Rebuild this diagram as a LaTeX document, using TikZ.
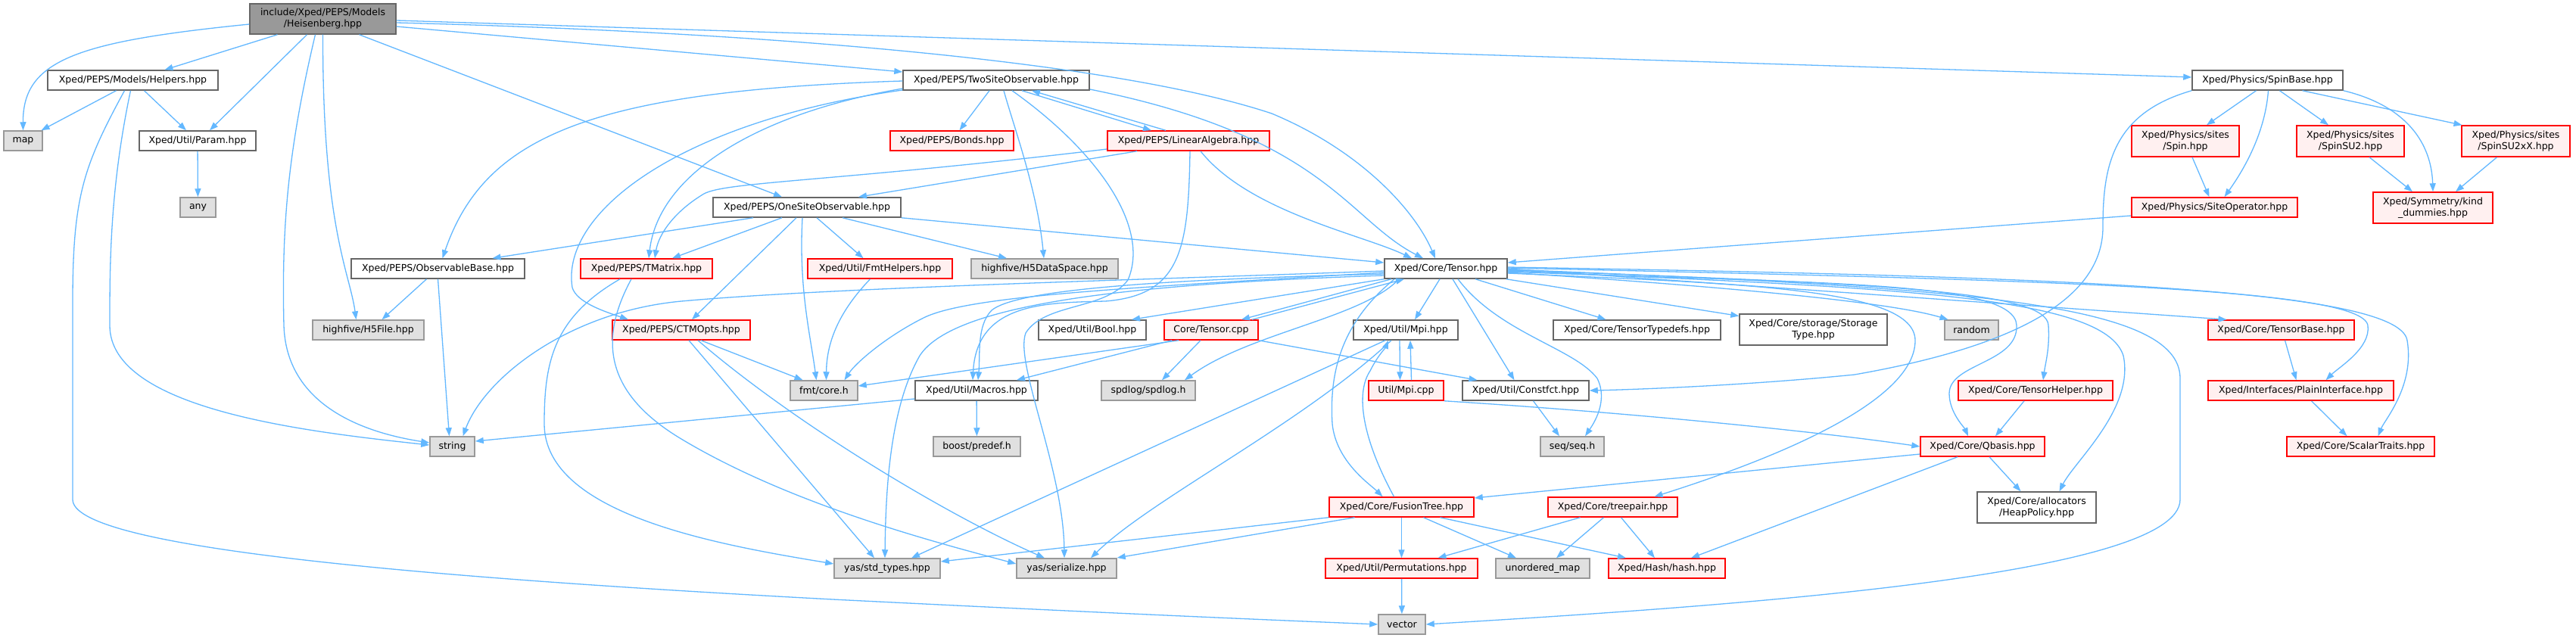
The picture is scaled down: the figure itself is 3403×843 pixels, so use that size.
\documentclass[tikz,border=0pt]{standalone}
\usepackage{fontspec}
\setmainfont{DejaVu Sans}
\usetikzlibrary{arrows.meta,calc}
\definecolor{edgeblue}{HTML}{63B8FF}
\definecolor{rootfill}{HTML}{999999}
\definecolor{docborder}{HTML}{666666}
\definecolor{extfill}{HTML}{E0E0E0}
\definecolor{extborder}{HTML}{999999}
\definecolor{truncfill}{HTML}{FFF0F0}
\definecolor{truncborder}{HTML}{FF0000}
\tikzset{
  box/.style={line width=1.5pt, inner sep=0pt, minimum height=26pt, align=center,
    font=\fontsize{12.5}{15}\selectfont},
  hbox/.style={box, fill=rootfill, draw=docborder},
  wbox/.style={box, fill=white, draw=docborder},
  rbox/.style={box, fill=truncfill, draw=truncborder},
  gbox/.style={box, fill=extfill, draw=extborder},
  e/.style={draw=edgeblue, line width=1.3pt, -{Triangle[length=11pt,width=8pt]}}
}
\begin{document}
\begin{tikzpicture}[x=1pt,y=-1pt]
\fill[white] (0,0) rectangle (3403,843);
\useasboundingbox (0,0) rectangle (3403,843);

% ---------- nodes ----------
\node[hbox,minimum width=193pt,minimum height=40pt] (heis) at (426.5,25) {include/Xped/PEPS/Models\\/Heisenberg.hpp};
\node[wbox,minimum width=225pt] (helpers) at (175.5,106) {Xped/PEPS/Models/Helpers.hpp};
\node[gbox,minimum width=51pt] (map) at (30.5,186) {map};
\node[wbox,minimum width=154pt] (param) at (261,186) {Xped/Util/Param.hpp};
\node[gbox,minimum width=47pt] (any) at (261.5,274) {any};
\node[wbox,minimum width=248pt] (onesite) at (1066,274) {Xped/PEPS/OneSiteObservable.hpp};
\node[wbox,minimum width=229pt] (obsbase) at (578.5,355) {Xped/PEPS/ObservableBase.hpp};
\node[rbox,minimum width=174pt] (tmatrix) at (854,355) {Xped/PEPS/TMatrix.hpp};
\node[rbox,minimum width=191pt] (fmthelp) at (1162.5,355) {Xped/Util/FmtHelpers.hpp};
\node[gbox,minimum width=194pt] (h5ds) at (1380,355) {highfive/H5DataSpace.hpp};
\node[wbox,minimum width=162pt] (tensor) at (1910,355) {Xped/Core/Tensor.hpp};
\node[wbox,minimum width=246pt] (twosite) at (1316,106) {Xped/PEPS/TwoSiteObservable.hpp};
\node[rbox,minimum width=163pt] (bonds) at (1257.5,186) {Xped/PEPS/Bonds.hpp};
\node[rbox,minimum width=214pt] (linalg) at (1570,186) {Xped/PEPS/LinearAlgebra.hpp};
\node[wbox,minimum width=199pt] (spinbase) at (2995.5,106) {Xped/Physics/SpinBase.hpp};
\node[rbox,minimum width=142pt,minimum height=41pt] (spin) at (2887,186.5) {Xped/Physics/sites\\/Spin.hpp};
\node[rbox,minimum width=142pt,minimum height=41pt] (spinsu2) at (3105,186.5) {Xped/Physics/sites\\/SpinSU2.hpp};
\node[rbox,minimum width=143pt,minimum height=41pt] (spinsu2xx) at (3323.5,186.5) {Xped/Physics/sites\\/SpinSU2xX.hpp};
\node[rbox,minimum width=219pt] (siteop) at (2925.5,274) {Xped/Physics/SiteOperator.hpp};
\node[rbox,minimum width=158pt,minimum height=41pt] (kind) at (3214,274.5) {Xped/Symmetry/kind\\\_dummies.hpp};
\node[gbox,minimum width=147pt] (h5file) at (486.5,436) {highfive/H5File.hpp};
\node[rbox,minimum width=182pt] (ctmopts) at (900,436) {Xped/PEPS/CTMOpts.hpp};
\node[gbox,minimum width=89pt] (fmtcore) at (1088.5,516) {fmt/core.h};
\node[gbox,minimum width=59pt] (string) at (597.5,590) {string};
\node[gbox,minimum width=140pt] (stdtypes) at (1172,751) {yas/std\_types.hpp};
\node[wbox,minimum width=142pt] (bool) at (1443,436) {Xped/Util/Bool.hpp};
\node[rbox,minimum width=124pt] (tensorcpp) at (1600,436) {Core/Tensor.cpp};
\node[wbox,minimum width=138pt] (mpi) at (1857,436) {Xped/Util/Mpi.hpp};
\node[wbox,minimum width=221pt] (typedefs) at (2162.5,436) {Xped/Core/TensorTypedefs.hpp};
\node[wbox,minimum width=162pt] (macros) at (1290,516) {Xped/Util/Macros.hpp};
\node[gbox,minimum width=124pt] (spdlog) at (1517,516) {spdlog/spdlog.h};
\node[rbox,minimum width=99pt] (mpicpp) at (1857.5,516) {Util/Mpi.cpp};
\node[wbox,minimum width=167pt] (constfct) at (2015.5,516) {Xped/Util/Constfct.hpp};
\node[gbox,minimum width=115pt] (predef) at (1290.5,590) {boost/predef.h};
\node[gbox,minimum width=84pt] (seq) at (2077,590) {seq/seq.h};
\node[rbox,minimum width=191pt] (fusion) at (1851.5,670) {Xped/Core/FusionTree.hpp};
\node[rbox,minimum width=171pt] (treepair) at (2130.5,670) {Xped/Core/treepair.hpp};
\node[gbox,minimum width=132pt] (serialize) at (1409,751) {yas/serialize.hpp};
\node[rbox,minimum width=201pt] (perm) at (1851.5,751) {Xped/Util/Permutations.hpp};
\node[gbox,minimum width=124pt] (umap) at (2038,751) {unordered\_map};
\node[rbox,minimum width=154pt] (hash) at (2202,751) {Xped/Hash/hash.hpp};
\node[gbox,minimum width=62pt] (vector) at (1852,825) {vector};
\node[wbox,minimum width=195pt,minimum height=41pt] (storage) at (2395.5,435.5) {Xped/Core/storage/Storage\\Type.hpp};
\node[gbox,minimum width=71pt] (random) at (2604.5,436) {random};
\node[rbox,minimum width=193pt] (tensorbase) at (3013.5,436) {Xped/Core/TensorBase.hpp};
\node[rbox,minimum width=204pt] (thelper) at (2689,516) {Xped/Core/TensorHelper.hpp};
\node[rbox,minimum width=245pt] (plain) at (3039.5,516) {Xped/Interfaces/PlainInterface.hpp};
\node[rbox,minimum width=164pt] (qbasis) at (2619,590) {Xped/Core/Qbasis.hpp};
\node[rbox,minimum width=195pt] (scalar) at (3118.5,590) {Xped/Core/ScalarTraits.hpp};
\node[wbox,minimum width=157pt,minimum height=41pt] (heap) at (2690.5,670.5) {Xped/Core/allocators\\/HeapPolicy.hpp};

% ---------- edges ----------
% Heisenberg
\draw[e] ($(heis.west)+(0,7)$) .. controls (100,55) and (30,80) .. (map.north);
\draw[e] ($(heis.south)+(-60,0)$) -- ($(helpers.north)+(42,0)$);
\draw[e] ($(heis.south)+(-21,0)$) -- ($(param.north)+(16,0)$);
\draw[e] ($(heis.south)+(-10,0)$) .. controls (380,200) and (372,300) .. (375,430) .. controls (378,530) and (470,570) .. ($(string.west)+(0,-5)$);
\draw[e] (heis.south) .. controls (426,300) and (462,360) .. ($(h5file.north)+(-16,0)$);
\draw[e] ($(heis.south)+(48,0)$) -- ($(onesite.north)+(-33,0)$);
\draw[e] ($(heis.east)+(0,10)$) -- ($(twosite.west)+(0,-11)$);
\draw[e] ($(heis.east)+(0,5)$) .. controls (1100,45) and (1500,90) .. (1680,150) .. controls (1800,200) and (1870,280) .. ($(tensor.north)+(-14,0)$);
\draw[e] ($(heis.east)+(0,2)$) -- ($(spinbase.west)+(0,-4)$);
% Helpers
\draw[e] ($(helpers.south)+(-22,0)$) -- ($(map.north)+(24,0)$);
\draw[e] ($(helpers.south)+(15,0)$) -- ($(param.north)+(-15,0)$);
\draw[e] ($(helpers.south)+(-3,0)$) .. controls (145,250) and (145,350) .. (145,430) .. controls (145,540) and (400,570) .. ($(string.west)+(0,-2)$);
\draw[e] ($(helpers.south)+(-11,0)$) .. controls (110,220) and (96,260) .. (96,400) -- (96,660) .. controls (96,720) and (500,760) .. (1100,792) .. controls (1500,812) and (1700,820) .. (vector.west);
\draw[e] (param) -- (any);
% TwoSiteObservable
\draw[e] ($(twosite.south)+(-9,0)$) -- ($(bonds.north)+(10,0)$);
\draw[e] ($(twosite.south)+(34,0)$) -- ($(linalg.north)+(-49,0)$);
\draw[e] ($(linalg.north)+(-30,0)$) -- ($(twosite.south)+(47,0)$);
\draw[e] ($(twosite.south)+(10,0)$) .. controls (1340,170) and (1370,250) .. ($(h5ds.north)+(-1,0)$);
\draw[e] ($(twosite.east)+(0,12)$) .. controls (1750,180) and (1780,290) .. ($(tensor.north)+(-30,0)$);
\draw[e] ($(twosite.west)+(0,1)$) .. controls (780,120) and (640,180) .. ($(obsbase.north)+(6,0)$);
\draw[e] ($(twosite.west)+(0,11)$) .. controls (1000,150) and (870,230) .. ($(tmatrix.north)+(3,0)$);
\draw[e] ($(twosite.west)+(0,13)$) .. controls (900,160) and (740,280) .. (756,380) .. controls (762,400) and (800,412) .. ($(ctmopts.north)+(-70,0)$);
\draw[e] ($(twosite.south)+(21,0)$) .. controls (1450,200) and (1520,300) .. (1490,370) .. controls (1460,410) and (1380,400) .. (1355,440) .. controls (1340,480) and (1405,620) .. ($(serialize.north)+(-3,0)$);
% LinearAlgebra
\draw[e] ($(linalg.south)+(-68,0)$) -- ($(onesite.north)+(68,0)$);
\draw[e] ($(linalg.west)+(0,11)$) .. controls (1100,240) and (960,240) .. (930,256) .. controls (890,280) and (870,310) .. ($(tmatrix.north)+(11,0)$);
\draw[e] ($(linalg.south)+(16,0)$) .. controls (1650,280) and (1800,310) .. ($(tensor.north)+(-45,0)$);
\draw[e] ($(linalg.south)+(2,0)$) .. controls (1570,330) and (1560,390) .. (1460,398) .. controls (1380,400) and (1290,400) .. ($(macros.north)+(-5,0)$);
% OneSiteObservable
\draw[e] ($(onesite.south)+(-71,0)$) -- ($(obsbase.north)+(72,0)$);
\draw[e] ($(onesite.south)+(-33,0)$) -- ($(tmatrix.north)+(34,0)$);
\draw[e] ($(onesite.south)+(-14,0)$) -- ($(ctmopts.north)+(14,0)$);
\draw[e] ($(onesite.south)+(-6,0)$) .. controls (1055,380) and (1070,440) .. ($(fmtcore.north)+(-10,0)$);
\draw[e] ($(onesite.south)+(13,0)$) -- ($(fmthelp.north)+(-22,0)$);
\draw[e] ($(onesite.south)+(47,0)$) -- ($(h5ds.north)+(-50,0)$);
\draw[e] (onesite.south east) -- ($(tensor.west)+(0,-8)$);
% ObservableBase, TMatrix, FmtHelpers, CTMOpts
\draw[e] ($(obsbase.south)+(-15,0)$) -- ($(h5file.north)+(18,0)$);
\draw[e] (obsbase.south) -- ($(string.north)+(-4,0)$);
\draw[e] ($(tmatrix.south)+(-35,0)$) .. controls (730,420) and (719,480) .. (719,560) .. controls (719,680) and (950,720) .. ($(stdtypes.west)+(0,-6)$);
\draw[e] ($(tmatrix.south)+(-20,0)$) .. controls (790,450) and (800,520) .. (900,580) .. controls (1050,670) and (1250,720) .. ($(serialize.west)+(0,-6)$);
\draw[e] ($(fmthelp.south)+(-13,0)$) .. controls (1110,410) and (1092,450) .. ($(fmtcore.north)+(3,0)$);
\draw[e] ($(ctmopts.south)+(26,0)$) -- ($(fmtcore.north)+(-28,0)$);
\draw[e] ($(ctmopts.south)+(10,0)$) -- ($(stdtypes.north)+(-17,0)$);
\draw[e] ($(ctmopts.south)+(22,0)$) .. controls (1050,560) and (1250,680) .. ($(serialize.north)+(-29,0)$);
% Tensor.hpp -> left side
\draw[e] ($(tensor.west)+(0,3)$) .. controls (1500,370) and (1100,380) .. (900,398) .. controls (750,412) and (640,500) .. ($(string.north)+(14,0)$);
\draw[e] ($(tensor.west)+(0,5)$) .. controls (1500,380) and (1280,390) .. (1220,420) .. controls (1170,445) and (1130,480) .. ($(fmtcore.north)+(27,0)$);
\draw[e] ($(tensor.west)+(0,7)$) .. controls (1500,370) and (1340,385) .. (1310,410) .. controls (1290,430) and (1295,470) .. ($(macros.north)+(2,0)$);
\draw[e] ($(tensor.west)+(0,9)$) .. controls (1500,375) and (1260,400) .. (1215,470) .. controls (1175,540) and (1170,650) .. ($(stdtypes.north)+(-3,0)$);
\draw[e] (tensor.south west) -- ($(bool.north)+(52,0)$);
\draw[e] ($(tensor.south)+(-72,0)$) -- ($(tensorcpp.north)+(40,0)$);
\draw[e] ($(tensorcpp.north)+(54,0)$) -- ($(tensor.south)+(-55,0)$);
\draw[e] ($(tensor.south)+(-62,0)$) .. controls (1800,420) and (1650,440) .. ($(spdlog.north)+(48,0)$);
\draw[e] ($(tensor.south)+(-8,0)$) -- ($(mpi.north)+(12,0)$);
\draw[e] ($(tensor.south)+(-68,0)$) .. controls (1780,420) and (1755,480) .. (1760,560) .. controls (1765,610) and (1810,640) .. ($(fusion.north)+(-25,0)$);
\draw[e] ($(fusion.north)+(-10,0)$) .. controls (1800,580) and (1790,520) .. (1810,490) .. controls (1820,470) and (1830,460) .. ($(mpi.south)+(-23,0)$);
\draw[e] ($(tensor.south)+(9,0)$) -- ($(constfct.north)+(-15,0)$);
\draw[e] ($(tensor.south)+(16,0)$) .. controls (1980,440) and (2080,460) .. (2110,500) .. controls (2125,530) and (2105,560) .. ($(seq.north)+(17,0)$);
\draw[e] ($(tensor.south)+(39,0)$) -- ($(typedefs.north)+(-41,0)$);
\draw[e] ($(tensor.south east)+(-2,0)$) -- ($(storage.west)+(0,-18)$);
% Tensor.hpp -> right side
\draw[e] ($(tensor.east)+(0,5)$) .. controls (2300,380) and (2500,400) .. ($(random.north)+(-31,0)$);
\draw[e] (tensor.east) -- ($(tensorbase.north)+(-72,0)$);
\draw[e] ($(tensor.east)+(0,2)$) .. controls (2500,375) and (2704,385) .. (2706,430) .. controls (2708,460) and (2702,480) .. ($(thelper.north)+(10,0)$);
\draw[e] ($(tensor.east)+(0,4)$) .. controls (2400,375) and (2662,370) .. (2664,430) .. controls (2666,480) and (2575,480) .. (2575,520) .. controls (2575,545) and (2595,565) .. ($(qbasis.north)+(-19,0)$);
\draw[e] ($(tensor.east)+(0,3)$) .. controls (2500,380) and (2780,390) .. (2805,470) .. controls (2820,540) and (2740,610) .. ($(heap.north)+(30,0)$);
\draw[e] ($(tensor.east)+(0,1)$) .. controls (2600,380) and (2880,400) .. (2880,500) -- (2880,660) .. controls (2880,760) and (2300,800) .. (vector.east);
\draw[e] ($(tensor.east)+(0,-1)$) .. controls (2700,370) and (3120,380) .. (3128,430) .. controls (3132,460) and (3090,485) .. ($(plain.north)+(33,0)$);
\draw[e] ($(tensor.east)+(0,-2)$) .. controls (2700,365) and (3170,380) .. (3180,450) .. controls (3190,510) and (3150,555) .. ($(scalar.north)+(23,0)$);
\draw[e] ($(tensor.east)+(0,6)$) .. controls (2300,375) and (2530,380) .. (2530,450) .. controls (2530,540) and (2300,620) .. ($(treepair.north)+(55,0)$);
% Core/Tensor.cpp
\draw[e] ($(tensorcpp.south)+(-43,0)$) -- ($(fmtcore.east)+(0,-6)$);
\draw[e] ($(tensorcpp.south)+(-52,0)$) -- ($(macros.north)+(53,0)$);
\draw[e] ($(tensorcpp.south)+(-14,0)$) -- ($(spdlog.north)+(18,0)$);
\draw[e] (tensorcpp.south east) -- ($(constfct.north)+(-64,0)$);
% Mpi
\draw[e] ($(mpi.south)+(-8,0)$) -- ($(mpicpp.north)+(-8,0)$);
\draw[e] ($(mpicpp.north)+(7,0)$) -- ($(mpi.south)+(6,0)$);
\draw[e] ($(mpi.south)+(-27,0)$) -- ($(stdtypes.north)+(32,0)$);
\draw[e] ($(mpi.south)+(-19,0)$) .. controls (1720,560) and (1520,660) .. ($(serialize.north)+(32,0)$);
\draw[e] (mpicpp.south east) .. controls (2150,545) and (2400,570) .. (qbasis.west);
% Macros, Constfct
\draw[e] ($(macros.west)+(0,11)$) -- ($(string.east)+(0,-7)$);
\draw[e] (macros) -- (predef);
\draw[e] ($(constfct.south)+(10,0)$) -- ($(seq.north)+(-17,0)$);
% FusionTree, treepair
\draw[e] (fusion.south west) -- ($(stdtypes.east)+(0,-9)$);
\draw[e] ($(fusion.south)+(-62,0)$) -- ($(serialize.east)+(0,-14)$);
\draw[e] (fusion) -- (perm);
\draw[e] ($(fusion.south)+(29,0)$) -- ($(umap.north)+(-35,0)$);
\draw[e] ($(fusion.south)+(51,0)$) -- ($(hash.north)+(-54,0)$);
\draw[e] ($(treepair.south)+(-43,0)$) -- ($(perm.north)+(48,0)$);
\draw[e] ($(treepair.south)+(-12,0)$) -- ($(umap.north)+(18,0)$);
\draw[e] ($(treepair.south)+(11,0)$) -- ($(hash.north)+(-16,0)$);
\draw[e] (perm) -- (vector);
% Qbasis, helpers
\draw[e] ($(qbasis.west)+(0,10)$) -- ($(fusion.east)+(0,-12)$);
\draw[e] ($(qbasis.south)+(-33,0)$) -- ($(hash.north)+(32,0)$);
\draw[e] ($(qbasis.south)+(9,0)$) -- ($(heap.north)+(-21,0)$);
\draw[e] ($(thelper.south)+(-15,0)$) -- ($(qbasis.north)+(17,0)$);
\draw[e] ($(tensorbase.south)+(5,0)$) -- ($(plain.north)+(-6,0)$);
\draw[e] ($(plain.south)+(14,0)$) -- ($(scalar.north)+(-18,0)$);
% SpinBase
\draw[e] ($(spinbase.south)+(-15,0)$) -- ($(spin.north)+(28,0)$);
\draw[e] ($(spinbase.south)+(1,0)$) .. controls (2992,180) and (2960,230) .. ($(siteop.north)+(13,0)$);
\draw[e] ($(spinbase.south)+(16,0)$) -- ($(spinsu2.north)+(-29,0)$);
\draw[e] ($(spinbase.south)+(46,0)$) -- ($(spinsu2xx.north)+(-71,0)$);
\draw[e] (spinbase.south east) .. controls (3180,140) and (3212,190) .. (kind.north);
\draw[e] (spinbase.south west) .. controls (2790,150) and (2778,220) .. (2778,300) .. controls (2778,400) and (2650,460) .. (2450,495) .. controls (2300,510) and (2150,515) .. (constfct.east);
\draw[e] ($(spin.south)+(9,0)$) -- ($(siteop.north)+(-7,0)$);
\draw[e] ($(spinsu2.south)+(25,0)$) -- ($(kind.north)+(-27,0)$);
\draw[e] ($(spinsu2xx.south)+(-25,0)$) -- ($(kind.north)+(30,0)$);
\draw[e] ($(siteop.west)+(0,11)$) -- ($(tensor.east)+(0,-8)$);
\end{tikzpicture}
\end{document}
